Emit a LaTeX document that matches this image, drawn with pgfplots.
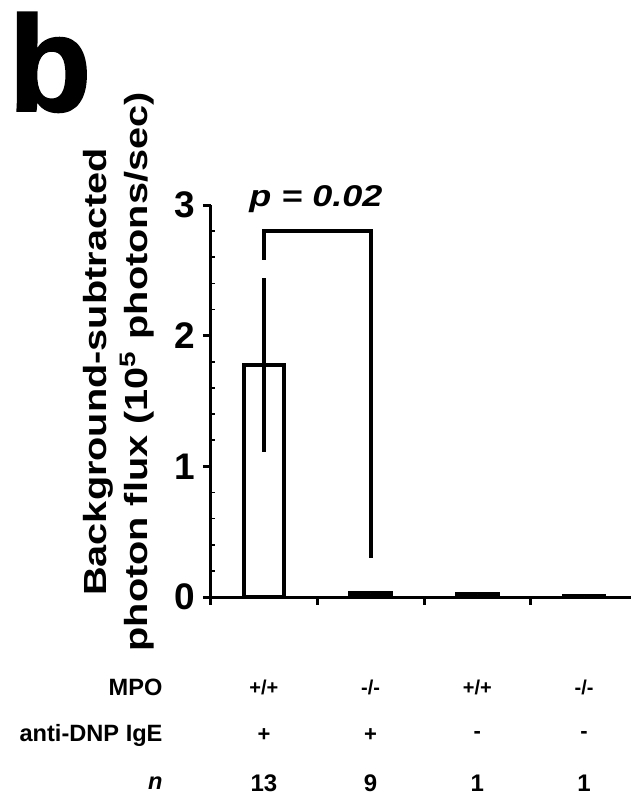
\documentclass[border=0pt]{standalone}
\usepackage{pgfplots}
\pgfplotsset{compat=1.18}
\usepackage{fontspec}
\setmainfont{Liberation Sans}
\newfontfamily\heavyfont[FakeBold=1.5]{Liberation Sans Bold}
\usepackage{graphicx}
\begin{document}
\begin{tikzpicture}
\path[use as bounding box] (0,0) rectangle (315.5pt,402.5pt);
\node[anchor=north west, inner sep=0pt, font=\heavyfont\fontsize{68}{68}\selectfont] at (4pt,396.5pt) {b};
\begin{axis}[
  at={(105.3pt,104pt)}, anchor=south west,
  scale only axis, width=210.2pt, height=196pt,
  xmin=-0.5, xmax=3.44, ymin=0, ymax=3,
  axis x line*=bottom, axis y line*=left,
  axis line style={line width=1.5pt},
  ytick={0,1,2,3}, minor y tick num=4,
  xtick={-0.5,0.5,1.5,2.5}, xticklabels={},
  tick align=outside, major tick length=3.8pt, minor tick length=2pt,
  every tick/.style={line width=1.5pt, black},
  minor y tick style={line width=0.8pt, xshift=2pt},
  yticklabel style={font=\bfseries\fontsize{18.5}{18.5}\selectfont, inner sep=0pt, xshift=-4pt},
  /pgf/number format/assume math mode=true,
  clip=false,
]
\addplot[ybar, bar width=0.38, draw=black, fill=white, line width=2pt,
  error bars/.cd, y dir=both, y explicit, error bar style={line width=2.2pt}, error mark=none]
  coordinates {(0,1.775) +- (0,0.665) (1,0.03) +- (0,0) (2,0.02) +- (0,0) (3,0.005) +- (0,0)};
\addplot[sharp plot, line width=2pt, black, mark=none]
  coordinates {(0,2.58) (0,2.80) (1,2.80) (1,0.30)};
\node[anchor=base, font=\bfseries\itshape\fontsize{15}{15}\selectfont] at (axis cs:0.487,2.985) {\scalebox{1.2}[1]{p = 0.02}};
% y label
\node[rotate=90, inner sep=0pt, font=\bfseries\fontsize{16}{16}\selectfont] at (axis cs:-1.556,1.722) {\scalebox{1.24}[1]{Background-subtracted}};
\node[rotate=90, inner sep=0pt, font=\bfseries\fontsize{16}{16}\selectfont] at (axis cs:-1.19,1.722) {\scalebox{1.24}[1]{photon flux (10\textsuperscript{5} photons/sec)}};
% table
\node[anchor=east, inner sep=0pt, font=\bfseries\fontsize{11.8}{11.8}\selectfont] at (axis cs:-0.947,-0.689) {MPO};
\node[anchor=east, inner sep=0pt, font=\bfseries\fontsize{11.8}{11.8}\selectfont] at (axis cs:-0.947,-1.056) {anti-DNP IgE};
\node[anchor=east, inner sep=0pt, font=\bfseries\itshape\fontsize{11.8}{11.8}\selectfont] at (axis cs:-0.947,-1.423) {n};
\node[font=\bfseries\fontsize{10}{10}\selectfont] at (axis cs:0,-0.689) {+/+};
\node[font=\bfseries\fontsize{10}{10}\selectfont] at (axis cs:1,-0.689) {-/-};
\node[font=\bfseries\fontsize{10}{10}\selectfont] at (axis cs:2,-0.689) {+/+};
\node[font=\bfseries\fontsize{10}{10}\selectfont] at (axis cs:3,-0.689) {-/-};
\node[font=\bfseries\fontsize{11}{11}\selectfont] at (axis cs:0,-1.056) {+};
\node[font=\bfseries\fontsize{11}{11}\selectfont] at (axis cs:1,-1.056) {+};
\node[font=\bfseries\fontsize{11}{11}\selectfont] at (axis cs:2,-1.056) {-};
\node[font=\bfseries\fontsize{11}{11}\selectfont] at (axis cs:3,-1.056) {-};
\node[font=\bfseries\fontsize{12}{12}\selectfont] at (axis cs:0,-1.423) {13};
\node[font=\bfseries\fontsize{12}{12}\selectfont] at (axis cs:1,-1.423) {9};
\node[font=\bfseries\fontsize{12}{12}\selectfont] at (axis cs:2,-1.423) {1};
\node[font=\bfseries\fontsize{12}{12}\selectfont] at (axis cs:3,-1.423) {1};
\end{axis}
\end{tikzpicture}
\end{document}
